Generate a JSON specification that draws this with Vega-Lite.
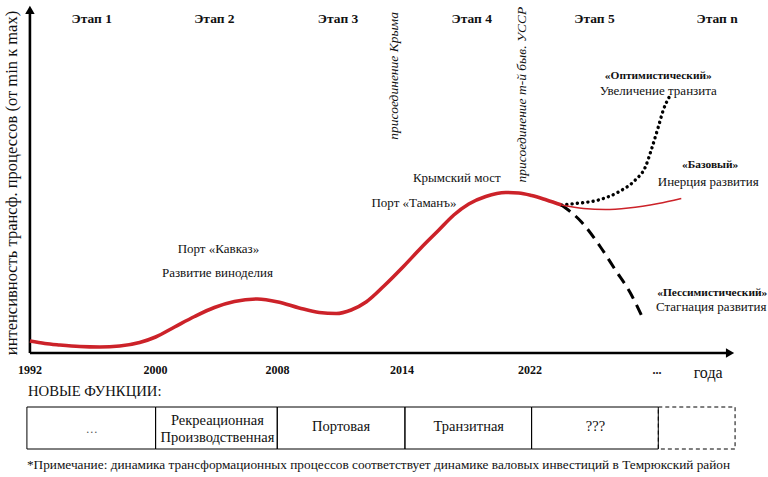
{
  "$schema": "https://vega.github.io/schema/vega-lite/v6.json",
  "width": 768,
  "height": 477,
  "autosize": {"type": "fit", "contains": "padding"},
  "padding": 0,
  "background": "white",
  "config": {"view": {"stroke": null}, "font": "Liberation Serif, serif", "text": {"font": "Liberation Serif, serif", "color": "#111"}},
  "datasets": {
    "curves": [
      {"s": "main", "t": 0.0, "v": 3.40}, {"s": "main", "t": 0.119, "v": 2.69}, {"s": "main", "t": 0.238, "v": 2.27},
      {"s": "main", "t": 0.397, "v": 1.84}, {"s": "main", "t": 0.556, "v": 1.70}, {"s": "main", "t": 0.714, "v": 1.98},
      {"s": "main", "t": 0.873, "v": 2.97}, {"s": "main", "t": 1.0, "v": 4.53}, {"s": "main", "t": 1.151, "v": 7.37},
      {"s": "main", "t": 1.310, "v": 10.34}, {"s": "main", "t": 1.468, "v": 12.89}, {"s": "main", "t": 1.627, "v": 14.59},
      {"s": "main", "t": 1.810, "v": 15.30}, {"s": "main", "t": 1.976, "v": 14.45}, {"s": "main", "t": 2.143, "v": 12.75},
      {"s": "main", "t": 2.302, "v": 11.47}, {"s": "main", "t": 2.437, "v": 11.19}, {"s": "main", "t": 2.556, "v": 12.18},
      {"s": "main", "t": 2.675, "v": 14.45}, {"s": "main", "t": 2.817, "v": 18.98}, {"s": "main", "t": 2.976, "v": 24.65},
      {"s": "main", "t": 3.111, "v": 29.75}, {"s": "main", "t": 3.254, "v": 34.84}, {"s": "main", "t": 3.373, "v": 39.09},
      {"s": "main", "t": 3.492, "v": 42.21}, {"s": "main", "t": 3.627, "v": 44.33}, {"s": "main", "t": 3.786, "v": 45.47},
      {"s": "main", "t": 3.889, "v": 45.33}, {"s": "main", "t": 3.992, "v": 44.62}, {"s": "main", "t": 4.111, "v": 43.34},
      {"s": "main", "t": 4.230, "v": 41.93},
      {"s": "base", "t": 4.230, "v": 41.93}, {"s": "base", "t": 4.405, "v": 40.93}, {"s": "base", "t": 4.579, "v": 40.65},
      {"s": "base", "t": 4.762, "v": 41.08}, {"s": "base", "t": 5.0, "v": 42.35}, {"s": "base", "t": 5.183, "v": 43.77},
      {"s": "opt", "t": 4.230, "v": 41.93}, {"s": "opt", "t": 4.341, "v": 42.35}, {"s": "opt", "t": 4.524, "v": 43.34},
      {"s": "opt", "t": 4.683, "v": 45.61}, {"s": "opt", "t": 4.817, "v": 49.01}, {"s": "opt", "t": 4.897, "v": 52.69},
      {"s": "opt", "t": 4.944, "v": 57.51}, {"s": "opt", "t": 5.0, "v": 64.02}, {"s": "opt", "t": 5.040, "v": 68.84},
      {"s": "opt", "t": 5.087, "v": 72.52},
      {"s": "pess", "t": 4.230, "v": 41.93}, {"s": "pess", "t": 4.389, "v": 37.11}, {"s": "pess", "t": 4.540, "v": 30.03},
      {"s": "pess", "t": 4.659, "v": 23.51}, {"s": "pess", "t": 4.778, "v": 17.0}, {"s": "pess", "t": 4.865, "v": 10.76}
    ],
    "vlines": [{"t": 1.0}, {"t": 1.976}, {"t": 2.976}, {"t": 3.992}, {"t": 5.0}],
    "axes": [
      {"name": "y", "t": 0, "t2": 0, "v": 0, "v2": 96.5},
      {"name": "x", "t": 0, "t2": 5.54, "v": 0, "v2": 0}
    ],
    "arrows": [
      {"name": "y", "t": 0, "v": 97.2},
      {"name": "x", "t": 5.571, "v": 0}
    ],
    "stages": [
      {"label": "Этап 1", "t": 0.492, "v": 94.6}, {"label": "Этап 2", "t": 1.468, "v": 94.6},
      {"label": "Этап 3", "t": 2.452, "v": 94.6}, {"label": "Этап 4", "t": 3.516, "v": 94.6},
      {"label": "Этап 5", "t": 4.492, "v": 94.6}, {"label": "Этап n", "t": 5.468, "v": 94.6}
    ],
    "ticks": [
      {"label": "1992", "t": 0.0, "v": -4.82}, {"label": "2000", "t": 1.0, "v": -4.82},
      {"label": "2008", "t": 1.97, "v": -4.82}, {"label": "2014", "t": 2.96, "v": -4.82},
      {"label": "2022", "t": 3.98, "v": -4.82}, {"label": "...", "t": 4.99, "v": -4.82}
    ],
    "notes": [
      {"label": "Порт «Кавказ»", "t": 1.5, "v": 29.46},
      {"label": "Развитие виноделия", "t": 1.492, "v": 22.66},
      {"label": "Крымский мост", "t": 3.397, "v": 49.58},
      {"label": "Порт «Таманъ»", "t": 3.056, "v": 42.49},
      {"label": "Увеличение транзита", "t": 5.0, "v": 74.22},
      {"label": "Инерция развития", "t": 5.397, "v": 48.44},
      {"label": "Стагнация развития", "t": 5.421, "v": 13.03}
    ],
    "scenarios": [
      {"label": "«Оптимистический»", "t": 5.0, "v": 78.47},
      {"label": "«Базовый»", "t": 5.413, "v": 53.26},
      {"label": "«Пессимистический»", "t": 5.429, "v": 17.0}
    ],
    "events": [
      {"label": "присоединение Крыма", "t": 2.897, "v": 78.5},
      {"label": "присоединение т-й быв. УССР", "t": 3.913, "v": 73.2}
    ],
    "cells": [
      {"col": "1", "t": -0.024, "t2": 1.0, "v": -15.3, "v2": -27.2},
      {"col": "2", "t": 1.0, "t2": 1.968, "v": -15.3, "v2": -27.2},
      {"col": "3", "t": 1.968, "t2": 2.984, "v": -15.3, "v2": -27.2},
      {"col": "4", "t": 2.984, "t2": 3.992, "v": -15.3, "v2": -27.2},
      {"col": "5", "t": 3.992, "t2": 5.0, "v": -15.3, "v2": -27.2},
      {"col": "n", "t": 5.0, "t2": 5.611, "v": -15.3, "v2": -27.2}
    ],
    "cellText": [
      {"label": "Рекреационная", "t": 1.492, "v": -19.26},
      {"label": "Производственная", "t": 1.492, "v": -24.08},
      {"label": "Портовая", "t": 2.476, "v": -20.96},
      {"label": "Транзитная", "t": 3.492, "v": -20.96},
      {"label": "???", "t": 4.5, "v": -20.96}
    ]
  },
  "encoding": {
    "x": {"field": "t", "type": "quantitative", "scale": {"domain": [-0.2381, 5.8571], "nice": false, "zero": false}, "axis": null},
    "y": {"field": "v", "type": "quantitative", "scale": {"domain": [-35.13, 100], "nice": false, "zero": false}, "axis": null}
  },
  "layer": [
    {
      "data": {"name": "vlines"},
      "mark": {"type": "rule", "color": "#555", "strokeWidth": 1, "strokeDash": [4, 3]},
      "encoding": {"y": {"datum": 0}, "y2": {"datum": 99.4}}
    },
    {
      "data": {"name": "axes"},
      "mark": {"type": "rule", "color": "#000", "strokeWidth": 2.6},
      "encoding": {"x2": {"field": "t2"}, "y2": {"field": "v2"}}
    },
    {
      "data": {"name": "arrows"},
      "transform": [{"filter": "datum.name === 'y'"}],
      "mark": {"type": "point", "shape": "triangle-up", "filled": true, "color": "#000", "size": 90, "opacity": 1}
    },
    {
      "data": {"name": "arrows"},
      "transform": [{"filter": "datum.name === 'x'"}],
      "mark": {"type": "point", "shape": "triangle-right", "filled": true, "color": "#000", "size": 90, "opacity": 1}
    },
    {
      "data": {"name": "curves"},
      "transform": [{"filter": "datum.s === 'opt'"}],
      "mark": {"type": "line", "color": "#000", "strokeWidth": 3.4, "strokeDash": [0.1, 5.2], "strokeCap": "round", "interpolate": "monotone"}
    },
    {
      "data": {"name": "curves"},
      "transform": [{"filter": "datum.s === 'pess'"}],
      "mark": {"type": "line", "color": "#000", "strokeWidth": 3, "strokeDash": [11, 7], "interpolate": "monotone"}
    },
    {
      "data": {"name": "curves"},
      "transform": [{"filter": "datum.s === 'base'"}],
      "mark": {"type": "line", "color": "#cc2229", "strokeWidth": 1.6, "interpolate": "monotone"}
    },
    {
      "data": {"name": "curves"},
      "transform": [{"filter": "datum.s === 'main'"}],
      "mark": {"type": "line", "color": "#cc2229", "strokeWidth": 3.6, "interpolate": "monotone"}
    },
    {
      "data": {"name": "stages"},
      "mark": {"type": "text", "font": "Liberation Serif, serif", "fontWeight": "bold", "fontSize": 13.5, "align": "center", "baseline": "middle"},
      "encoding": {"text": {"field": "label"}}
    },
    {
      "data": {"name": "ticks"},
      "mark": {"type": "text", "font": "Liberation Serif, serif", "fontWeight": "bold", "fontSize": 12, "align": "center", "baseline": "middle"},
      "encoding": {"text": {"field": "label"}}
    },
    {
      "data": {"values": [{"label": "года", "t": 5.397, "v": -5.67}]},
      "mark": {"type": "text", "font": "Liberation Serif, serif", "fontSize": 16, "align": "center", "baseline": "middle"},
      "encoding": {"text": {"field": "label"}}
    },
    {
      "data": {"name": "notes"},
      "mark": {"type": "text", "font": "Liberation Serif, serif", "fontSize": 13, "align": "center", "baseline": "middle"},
      "encoding": {"text": {"field": "label"}}
    },
    {
      "data": {"name": "scenarios"},
      "mark": {"type": "text", "font": "Liberation Serif, serif", "fontSize": 11.4, "fontWeight": "bold", "align": "center", "baseline": "middle"},
      "encoding": {"text": {"field": "label"}}
    },
    {
      "data": {"name": "events"},
      "mark": {"type": "text", "font": "Liberation Serif, serif", "fontSize": 13.5, "fontStyle": "italic", "angle": 270, "align": "center", "baseline": "middle"},
      "encoding": {"text": {"field": "label"}}
    },
    {
      "data": {"values": [{"label": "интенсивность трансф. процессов (от min к max)", "t": -0.143, "v": 48.16}]},
      "mark": {"type": "text", "font": "Liberation Serif, serif", "fontSize": 16.5, "angle": 270, "align": "center", "baseline": "middle"},
      "encoding": {"text": {"field": "label"}}
    },
    {
      "data": {"values": [{"label": "НОВЫЕ ФУНКЦИИ:", "t": -0.016, "v": -11.05}]},
      "mark": {"type": "text", "font": "Liberation Serif, serif", "fontSize": 14.7, "align": "left", "baseline": "middle"},
      "encoding": {"text": {"field": "label"}}
    },
    {
      "data": {"name": "cells"},
      "transform": [{"filter": "datum.col !== 'n'"}],
      "mark": {"type": "rect", "fill": null, "fillOpacity": 0, "stroke": "#000", "strokeWidth": 1},
      "encoding": {"x2": {"field": "t2"}, "y2": {"field": "v2"}}
    },
    {
      "data": {"name": "cells"},
      "transform": [{"filter": "datum.col === 'n'"}],
      "mark": {"type": "rect", "fill": null, "fillOpacity": 0, "stroke": "#000", "strokeWidth": 1, "strokeDash": [4, 3]},
      "encoding": {"x2": {"field": "t2"}, "y2": {"field": "v2"}}
    },
    {
      "data": {"name": "cellText"},
      "mark": {"type": "text", "font": "Liberation Serif, serif", "fontSize": 14.5, "align": "center", "baseline": "middle"},
      "encoding": {"text": {"field": "label"}}
    },
    {
      "data": {"values": [{"label": "…", "t": 0.492, "v": -21.5}]},
      "mark": {"type": "text", "font": "Liberation Serif, serif", "fontSize": 12, "color": "#555", "align": "center", "baseline": "middle"},
      "encoding": {"text": {"field": "label"}}
    },
    {
      "data": {"values": [{"label": "*Примечание: динамика трансформационных процессов соответствует динамике валовых инвестиций в Темрюкский район", "t": -0.024, "v": -31.73}]},
      "mark": {"type": "text", "font": "Liberation Serif, serif", "fontSize": 13.3, "align": "left", "baseline": "middle"},
      "encoding": {"text": {"field": "label"}}
    }
  ]
}
